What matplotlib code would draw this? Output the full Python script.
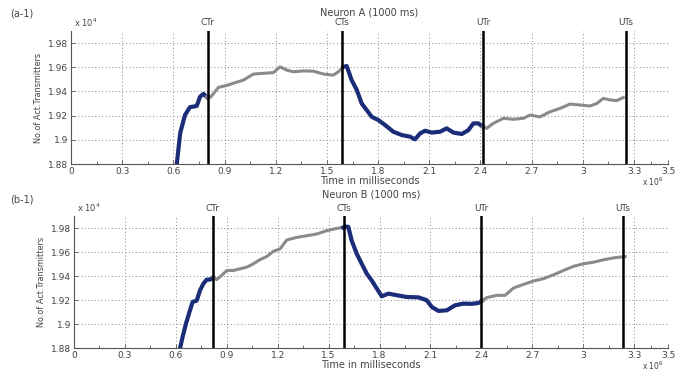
import matplotlib
matplotlib.use("Agg")
import matplotlib.pyplot as plt

# ---------------- data (time x1e6, value x1e4) ----------------
# Panel A
a_blue1_t = [0.62, 0.64, 0.668, 0.697, 0.737, 0.756, 0.776, 0.795]
a_blue1_v = [1.880, 1.9056, 1.9205, 1.927, 1.928, 1.9356, 1.938, 1.9356]
a_gray1_t = [0.795, 0.815, 0.834, 0.864, 0.913, 0.951, 1.01, 1.069, 1.127, 1.186,
             1.225, 1.264, 1.303, 1.362, 1.42, 1.479, 1.537, 1.567, 1.596]
a_gray1_v = [1.9356, 1.935, 1.938, 1.9434, 1.945, 1.9468, 1.9494, 1.9544, 1.955, 1.9556,
             1.9604, 1.9577, 1.9563, 1.957, 1.9568, 1.9544, 1.9535, 1.9563, 1.9604]
a_blue2_t = [1.596, 1.616, 1.645, 1.675, 1.704, 1.733, 1.763, 1.801, 1.841, 1.889,
             1.938, 1.987, 2.016, 2.046, 2.075, 2.114, 2.163, 2.202, 2.241, 2.29,
             2.329, 2.358, 2.387, 2.413]
a_blue2_v = [1.9604, 1.961, 1.9494, 1.9412, 1.930, 1.9246, 1.919, 1.9164, 1.9122, 1.9067,
             1.904, 1.9026, 1.9004, 1.9053, 1.9075, 1.906, 1.9067, 1.9095, 1.906, 1.9048,
             1.908, 1.9136, 1.9136, 1.9109]
a_gray2_t = [2.413, 2.436, 2.475, 2.534, 2.593, 2.651, 2.69, 2.749, 2.807, 2.866,
             2.925, 2.983, 3.042, 3.081, 3.12, 3.159, 3.198, 3.237]
a_gray2_v = [1.9109, 1.9095, 1.9136, 1.9178, 1.917, 1.9178, 1.9205, 1.919, 1.9232, 1.926,
             1.9296, 1.9288, 1.928, 1.930, 1.9343, 1.933, 1.9324, 1.935]
a_marks_t = [0.80, 1.59, 2.415, 3.25]

# Panel B
b_blue1_t = [0.625, 0.64, 0.66, 0.68, 0.699, 0.723, 0.742, 0.762, 0.782, 0.801, 0.821]
b_blue1_v = [1.880, 1.8894, 1.9005, 1.910, 1.9184, 1.9195, 1.928, 1.9336, 1.937, 1.937, 1.939]
b_gray1_t = [0.821, 0.84, 0.87, 0.90, 0.939, 0.978, 1.018, 1.057, 1.096, 1.135, 1.175,
             1.214, 1.253, 1.312, 1.371, 1.43, 1.489, 1.548, 1.587]
b_gray1_v = [1.939, 1.937, 1.9405, 1.9446, 1.9446, 1.946, 1.9474, 1.9502, 1.9537, 1.9562, 1.9606,
             1.9626, 1.970, 1.9722, 1.9736, 1.975, 1.9778, 1.9797, 1.9805]
b_blue2_t = [1.587, 1.597, 1.616, 1.636, 1.666, 1.695, 1.725, 1.754, 1.784, 1.813, 1.852,
             1.902, 1.961, 2.029, 2.078, 2.108, 2.147, 2.196, 2.245, 2.294, 2.343,
             2.382, 2.402]
b_blue2_v = [1.9805, 1.9811, 1.981, 1.9695, 1.9585, 1.9502, 1.9419, 1.9363, 1.9295, 1.9231, 1.9253,
             1.924, 1.9225, 1.9222, 1.9198, 1.9142, 1.9109, 1.9114, 1.9156, 1.917, 1.9168,
             1.9175, 1.9192]
b_gray2_t = [2.402, 2.432, 2.491, 2.54, 2.589, 2.648, 2.707, 2.766, 2.825, 2.883,
             2.942, 3.001, 3.06, 3.119, 3.178, 3.247]
b_gray2_v = [1.9192, 1.922, 1.9239, 1.9239, 1.930, 1.933, 1.9358, 1.9378, 1.941, 1.9446,
             1.948, 1.9502, 1.9515, 1.9535, 1.9551, 1.9562]
b_marks_t = [0.817, 1.59, 2.40, 3.235]

mark_labels = ["CTr", "CTs", "UTr", "UTs"]
x_ticks = [0, 0.3, 0.6, 0.9, 1.2, 1.5, 1.8, 2.1, 2.4, 2.7, 3, 3.3, 3.5]
x_ticklabels = ["0", "0.3", "0.6", "0.9", "1.2", "1.5", "1.8", "2.1", "2.4", "2.7", "3", "3.3", "3.5"]
y_ticks = [1.88, 1.90, 1.92, 1.94, 1.96, 1.98]
y_ticklabels = ["1.88", "1.9", "1.92", "1.94", "1.96", "1.98"]
x_minor = [0.15, 0.45, 0.75, 1.05, 1.35, 1.65, 1.95, 2.25, 2.55, 2.85, 3.15, 3.4]

titles = ["Neuron A (1000 ms)", "Neuron B (1000 ms)"]
panel_tags = ["(a-1)", "(b-1)"]

BLUE = "#1b2d78"
GRAY = "#8a8a8a"
TXT = "#444444"

plt.rcParams['font.family'] = ['DejaVu Sans']

fig = plt.figure(figsize=(6.88, 3.72), dpi=100)
ax_a = fig.add_axes([0.1032, 0.5591, 0.868, 0.3575])
ax_b = fig.add_axes([0.1076, 0.0645, 0.8634, 0.3548])

panels = [
    (ax_a, [(a_blue1_t, a_blue1_v, BLUE), (a_gray1_t, a_gray1_v, GRAY),
            (a_blue2_t, a_blue2_v, BLUE), (a_gray2_t, a_gray2_v, GRAY)], a_marks_t),
    (ax_b, [(b_blue1_t, b_blue1_v, BLUE), (b_gray1_t, b_gray1_v, GRAY),
            (b_blue2_t, b_blue2_v, BLUE), (b_gray2_t, b_gray2_v, GRAY)], b_marks_t),
]

for i, (ax, segs, marks) in enumerate(panels):
    for t, v, c in segs:
        lw = 3.0 if c == BLUE else 2.2
        ax.plot(t, v, color=c, lw=lw, solid_joinstyle='round', zorder=3)
    for m, lab in zip(marks, mark_labels):
        ax.axvline(m, color="black", lw=1.8, zorder=4)
        ax.text(m, 1.065 if i == 0 else 1.055, lab, transform=ax.get_xaxis_transform(),
                ha="center", va="center", fontsize=6.5, color=TXT)
    ax.set_xlim(0, 3.5)
    ax.set_ylim(1.88, 1.99)
    ax.set_xticks(x_ticks)
    ax.set_xticklabels(x_ticklabels)
    ax.set_xticks(x_minor, minor=True)
    ax.set_yticks(y_ticks)
    ax.set_yticklabels(y_ticklabels)
    ax.tick_params(axis="both", which="major", direction="in", length=3, width=0.6,
                   labelsize=6.5, labelcolor=TXT, color="#555555", pad=2)
    ax.tick_params(axis="x", which="minor", direction="in", length=2.5, width=0.6, color="#555555")
    ax.grid(True, which="major", linestyle=(0, (1, 2.5)), color="#888888", lw=0.7)
    for s in ["top", "right"]:
        ax.spines[s].set_visible(False)
    for s in ["left", "bottom"]:
        ax.spines[s].set_color("#555555")
        ax.spines[s].set_linewidth(0.8)
    ax.set_xlabel("Time in milliseconds", fontsize=7, color=TXT, labelpad=0)
    ax.set_ylabel("No.of Act.Transmitters", fontsize=6.5, color=TXT, fontstretch="condensed",
                  labelpad=4)
    ax.text(0.005, 1.015, r"x 10$^4$", transform=ax.transAxes, fontsize=6, color=TXT,
            ha="left", va="bottom")
    ax.text(0.975, -0.135, r"x 10$^6$", transform=ax.transAxes, fontsize=5.5, color=TXT,
            ha="center", va="center")
    ax.text(0.5, 1.14 if i == 0 else 1.16, titles[i], transform=ax.transAxes,
            ha="center", va="center", fontsize=7, color=TXT)

fig.text(0.015, 0.965, panel_tags[0], fontsize=7, color=TXT, ha="left", va="center")
fig.text(0.015, 0.465, panel_tags[1], fontsize=7, color=TXT, ha="left", va="center")

fig.savefig("out.png", dpi=100)
